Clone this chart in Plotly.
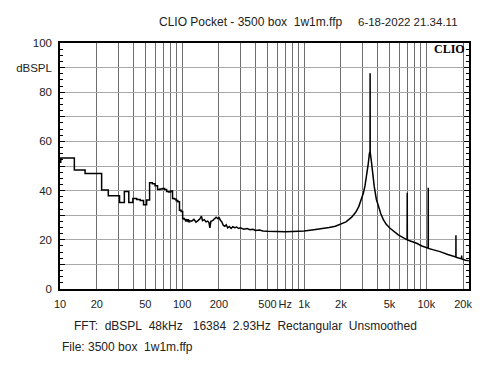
import plotly.graph_objects as go

# Low-frequency FFT bins (Hz) and levels (dBSPL), drawn as steps
bin_freq_hz = [8.79, 11.72, 14.65, 17.58, 20.51, 23.44, 26.37, 29.30, 32.23, 35.16,
               38.09, 41.02, 43.95, 46.88, 49.80, 52.73, 55.66, 58.59, 61.52, 64.45,
               67.38, 70.31, 73.24, 76.17, 79.10, 82.03, 84.96, 87.89, 90.82, 93.75,
               96.68, 99.61, 102.54, 105.47, 108.40, 111.33, 114.26, 117.19]
bin_spl_db = [51.5, 53.3, 48.4, 47.0, 47.0, 40.2, 37.9, 37.9, 35.2, 39.6,
              35.2, 36.8, 36.4, 36.0, 34.2, 36.2, 43.2, 42.8, 42.0, 40.4,
              40.6, 40.9, 40.4, 39.6, 39.4, 39.8, 36.8, 36.6, 36.0, 35.5,
              32.0, 31.5, 28.7, 28.3, 27.6, 28.2, 27.3, 27.7]

# Higher-frequency part of the spectrum
hf_freq_hz = [117.19, 120, 125, 130, 135, 140, 144, 147, 152, 157, 162, 166, 169, 172,
              178, 184, 190, 196, 201, 206, 212, 218, 224, 230, 236, 244, 252, 260,
              270, 280, 290, 300, 320, 340, 360, 380, 400, 430, 460, 500, 550, 600,
              700, 800, 900, 1000, 1200, 1400, 1600, 1800, 2000, 2200, 2450, 2650,
              2800, 2950, 3050, 3150, 3250, 3350, 3420, 3462, 3468, 3474, 3550, 3650,
              3750, 3900, 4050, 4250, 4450, 4700, 5050, 5500, 5900, 6400, 6970, 6985,
              7000, 7600, 8340, 9200, 10360, 10380, 10400, 11500, 12940, 15000, 17180,
              17480, 17500, 17520, 18400, 19450, 19500, 19550, 21000, 22300]
hf_spl_db = [27.7, 27.6, 28.3, 27.2, 27.8, 28.5, 29.6, 27.8, 28.2, 27.3, 27.6, 27.0, 24.8, 27.5,
             27.8, 28.4, 29.2, 28.6, 29.0, 27.9, 27.2, 25.8, 25.5, 26.1, 24.9, 25.4, 24.6, 25.3,
             24.9, 25.2, 24.6, 24.9, 24.3, 24.6, 24.1, 24.3, 23.8, 24.0, 23.6, 23.5, 23.4, 23.3,
             23.3, 23.4, 23.5, 23.6, 24.1, 24.5, 25.0, 25.5, 26.3, 27.3, 29.2, 31.3,
             33.5, 36.5, 38.9, 42.0, 45.7, 51.0, 55.0, 56.0, 87.7, 55.5, 52.0, 45.0,
             41.6, 36.5, 33.5, 30.5, 28.2, 26.3, 24.7, 23.2, 22.0, 21.0, 20.0, 39.1,
             19.9, 19.3, 18.6, 17.5, 16.6, 41.2, 16.5, 15.9, 15.2, 14.0, 13.1,
             13.0, 21.9, 12.9, 12.6, 12.3, 13.6, 12.2, 11.7, 11.5]

x_grid_vals = [10, 20, 30, 40, 50, 60, 70, 80, 90, 100, 200, 300, 400, 500, 600, 700,
               800, 900, 1000, 2000, 3000, 4000, 5000, 6000, 7000, 8000, 9000, 10000, 20000]
x_grid_text = ["10", "20", "", "", "50", "", "", "", "", "100", "200", "", "", "500", "", "Hz",
               "", "", "1k", "2k", "", "", "5k", "", "", "", "", "10k", "20k"]
y_tick_vals = [0, 10, 20, 30, 40, 50, 60, 70, 80, 90, 100]
y_tick_text = ["0", "", "20", "", "40", "", "60", "", "80", "dBSPL", "100"]

FONT = "Liberation Sans, Arial, sans-serif"
TXT = "#222222"

fig = go.Figure()
fig.add_trace(go.Scatter(x=bin_freq_hz, y=bin_spl_db, mode="lines",
                         line=dict(color="black", width=1.5, shape="hvh"),
                         hoverinfo="skip", showlegend=False))
fig.add_trace(go.Scatter(x=hf_freq_hz, y=hf_spl_db, mode="lines",
                         line=dict(color="black", width=1.5),
                         hoverinfo="skip", showlegend=False))

# page body adds an 8px offset, so the figure is sized to the visible area
fig.update_layout(
    width=492, height=367,
    margin=dict(l=52, r=31, t=35, b=86, autoexpand=False),
    paper_bgcolor="white", plot_bgcolor="white",
    font=dict(family=FONT, size=11, color=TXT),
    showlegend=False,
)
fig.update_xaxes(type="log", range=[1, 4.35], tickmode="array",
                 tickvals=x_grid_vals, ticktext=x_grid_text, tickangle=0,
                 automargin=False,
                 showgrid=True, gridcolor="#6e6e6e", gridwidth=1,
                 showline=True, linecolor="black", linewidth=1.5, mirror=True,
                 ticks="", ticklabelstandoff=4, zeroline=False,
                 tickfont=dict(family=FONT, size=11, color=TXT))
fig.update_yaxes(range=[0, 100], tickmode="array",
                 tickvals=y_tick_vals, ticktext=y_tick_text, automargin=False,
                 showgrid=True, gridcolor="#a8a8a8", gridwidth=1,
                 showline=True, linecolor="black", linewidth=1.5, mirror="ticks",
                 ticks="inside", ticklen=5, tickcolor="black", tickwidth=1,
                 minor=dict(ticks="inside", ticklen=3, dtick=2.5, tickcolor="black",
                            showgrid=False),
                 ticklabelstandoff=4, zeroline=False,
                 tickfont=dict(family=FONT, size=11.5, color=TXT))

def px_x(p):
    return (p - 60) / 409.0

def px_y(p):
    return (289 - p) / 246.0

ANN = dict(family=FONT, size=12, color=TXT)
fig.add_annotation(text="CLIO Pocket - 3500 box\u00a0\u00a01w1m.ffp", xref="paper", yref="paper",
                   x=px_x(157), y=px_y(22), xanchor="left", yanchor="middle",
                   showarrow=False, font=ANN)
fig.add_annotation(text="6-18-2022 21.34.11", xref="paper", yref="paper",
                   x=px_x(460), y=px_y(22), xanchor="right", yanchor="middle",
                   showarrow=False, font=dict(family=FONT, size=11.5, color=TXT))
fig.add_annotation(text="FFT:\u00a0\u00a0dBSPL\u00a0\u00a048kHz\u00a0\u00a0\u00a016384\u00a0\u00a02.93Hz\u00a0\u00a0Rectangular\u00a0\u00a0Unsmoothed",
                   xref="paper", yref="paper", x=px_x(72), y=px_y(326),
                   xanchor="left", yanchor="middle", showarrow=False, font=ANN)
fig.add_annotation(text="File: 3500 box\u00a0\u00a01w1m.ffp", xref="paper", yref="paper",
                   x=px_x(60), y=px_y(347), xanchor="left", yanchor="middle",
                   showarrow=False, font=ANN)
fig.add_annotation(text="<b>CLIO</b>", xref="paper", yref="paper",
                   x=px_x(467), y=px_y(49.5), xanchor="right", yanchor="middle",
                   showarrow=False, font=dict(family="Liberation Serif, Times New Roman, serif",
                                              size=12, color="black"))

fig.write_html("out.html")
